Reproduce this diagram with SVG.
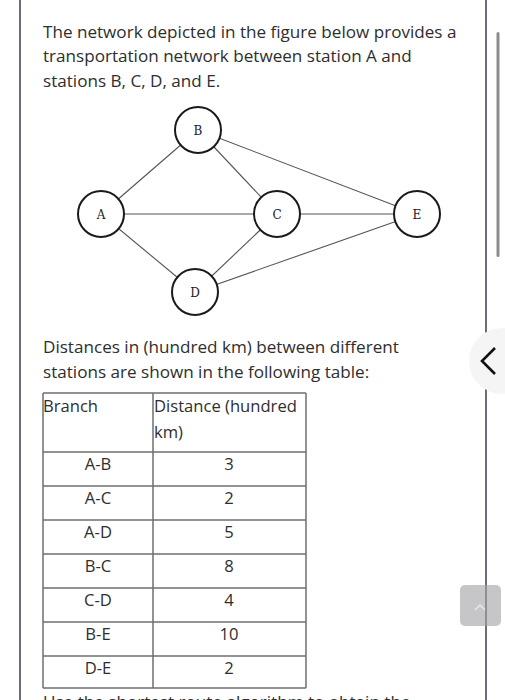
<svg xmlns="http://www.w3.org/2000/svg" width="505" height="700" viewBox="0 0 505 700">
<style>
.t{font-family:"Open Sans","Liberation Sans",sans-serif;font-size:17.1px;fill:#2e2e2e}
.tb{font-family:"Open Sans","Liberation Sans",sans-serif;font-size:16.6px;fill:#2e2e2e}
.c{text-anchor:middle}
.node circle{fill:#fff;stroke:#1a1a1a;stroke-width:2}
.node text{font-family:"DejaVu Serif","Liberation Serif",serif;font-size:12px;fill:#222;text-anchor:middle}
.edges line{stroke:#555;stroke-width:1.1}
.grid line{stroke:#6e6e6e;stroke-width:1.5}
</style>
<rect width="505" height="700" fill="#fff"/>
<line x1="20" y1="0" x2="20" y2="700" stroke="#6c6c7c" stroke-width="2"/>
<line x1="486" y1="0" x2="486" y2="700" stroke="#6c6c7c" stroke-width="2"/>
<rect x="496.5" y="32" width="3" height="225" rx="1.5" fill="#8c8c8c"/>
<circle cx="502" cy="361" r="33" fill="#f5f5f6"/>
<polyline points="495,348 482,361 495,374" fill="none" stroke="#111" stroke-width="2.6"/>
<rect x="460" y="585" width="41" height="41" rx="5" fill="#c6c6c8"/>
<line x1="486" y1="585" x2="486" y2="626" stroke="#8e8e98" stroke-width="2"/>
<polyline points="475,610 480,605 485,610" fill="none" stroke="#e8e8e8" stroke-width="1.5"/>

<text class="t" x="43" y="38">The network depicted in the figure below provides a</text>
<text class="t" x="43" y="62">transportation network between station A and</text>
<text class="t" x="43" y="87">stations B, C, D, and E.</text>

<g class="edges">
<line x1="101" y1="214" x2="198" y2="130"/>
<line x1="101" y1="214" x2="277" y2="214"/>
<line x1="101" y1="214" x2="195" y2="292"/>
<line x1="198" y1="130" x2="277" y2="214"/>
<line x1="198" y1="130" x2="417" y2="214"/>
<line x1="277" y1="214" x2="195" y2="292"/>
<line x1="277" y1="214" x2="417" y2="214"/>
<line x1="195" y1="292" x2="417" y2="214"/>
</g>
<g class="node" id="node-B"><circle cx="198" cy="130" r="23"/><text x="198" y="134.5">B</text></g>
<g class="node" id="node-A"><circle cx="101" cy="214" r="23"/><text x="101" y="218.5">A</text></g>
<g class="node" id="node-C"><circle cx="277" cy="214" r="23"/><text x="277" y="218.5">C</text></g>
<g class="node" id="node-E"><circle cx="417" cy="214" r="23"/><text x="417" y="218.5">E</text></g>
<g class="node" id="node-D"><circle cx="195" cy="292" r="23"/><text x="195" y="296.5">D</text></g>

<text class="t" x="43" y="353">Distances in (hundred km) between different</text>
<text class="t" x="43" y="378">stations are shown in the following table:</text>

<g class="grid">
<line x1="43" y1="393" x2="306" y2="393"/>
<line x1="43" y1="452" x2="306" y2="452"/>
<line x1="43" y1="486" x2="306" y2="486"/>
<line x1="43" y1="520" x2="306" y2="520"/>
<line x1="43" y1="554" x2="306" y2="554"/>
<line x1="43" y1="588" x2="306" y2="588"/>
<line x1="43" y1="622" x2="306" y2="622"/>
<line x1="43" y1="656" x2="306" y2="656"/>
<line x1="43" y1="688" x2="306" y2="688"/>
<line x1="43" y1="393" x2="43" y2="688"/>
<line x1="153" y1="393" x2="153" y2="688"/>
<line x1="306" y1="393" x2="306" y2="688"/>
</g>
<text class="tb" x="43" y="412">Branch</text>
<text class="tb" x="154" y="412">Distance (hundred</text>
<text class="tb" x="154" y="438">km)</text>
<text class="tb c" x="98" y="470">A-B</text><text class="tb c" x="229" y="470">3</text>
<text class="tb c" x="98" y="504">A-C</text><text class="tb c" x="229" y="504">2</text>
<text class="tb c" x="98" y="538">A-D</text><text class="tb c" x="229" y="538">5</text>
<text class="tb c" x="98" y="572">B-C</text><text class="tb c" x="229" y="572">8</text>
<text class="tb c" x="98" y="606">C-D</text><text class="tb c" x="229" y="606">4</text>
<text class="tb c" x="98" y="640">B-E</text><text class="tb c" x="229" y="640">10</text>
<text class="tb c" x="98" y="674">D-E</text><text class="tb c" x="229" y="674">2</text>
<text class="t" x="43" y="708">Use the shortest route algorithm to obtain the</text>
</svg>
